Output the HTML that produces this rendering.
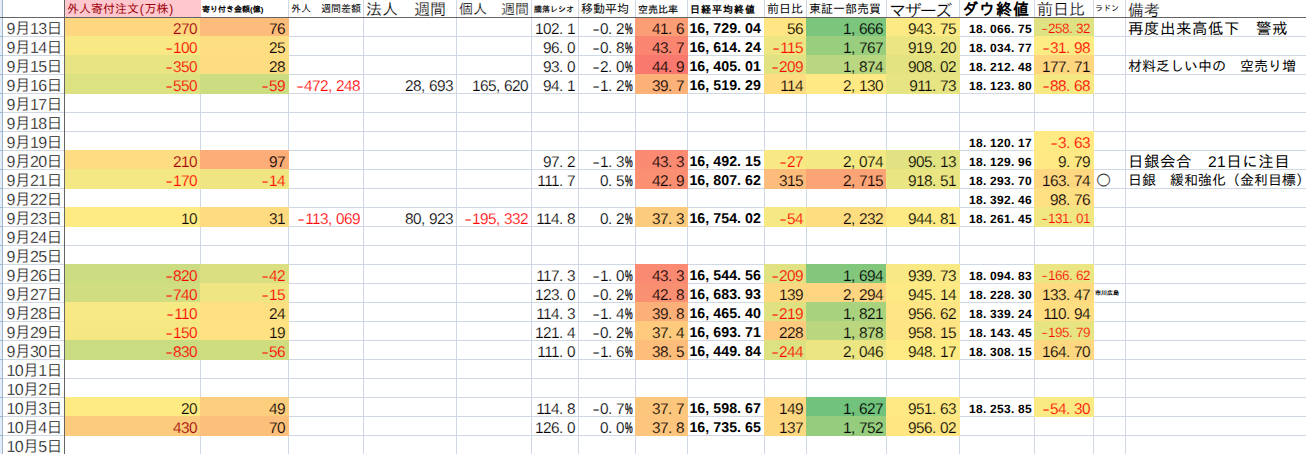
<!DOCTYPE html>
<html lang="ja">
<head>
<meta charset="utf-8">
<title>外人寄付注文 シート</title>
<style>
html,body{margin:0;padding:0;background:#fff;}
body{width:1306px;height:454px;overflow:hidden;}
#sheet{position:relative;width:1306px;height:454px;overflow:hidden;background:#fff;
  font-family:"Liberation Sans","IPAGothic",sans-serif;color:#000;}
.rh{position:absolute;left:0;top:0;width:2px;height:454px;background:#e4ecf7;}
.rhb{position:absolute;left:2px;top:0;width:1px;height:454px;background:#9eb6ce;}
.grid .rl{position:absolute;left:0;width:2px;height:1px;background:#9eb6ce;}
.grid .vl{position:absolute;top:0;width:1px;height:454px;background:#d0d7e5;}
.grid .hl{position:absolute;left:3px;height:1px;width:1303px;background:#d0d7e5;}
.row{position:absolute;left:0;top:0;width:1306px;height:20px;}
.row.head{height:17px;}
.c{position:absolute;top:0;height:20px;box-sizing:border-box;white-space:nowrap;
  text-align:right;padding-right:4px;font-size:15.4px;letter-spacing:-0.56px;line-height:25.3px;overflow:visible;text-rendering:geometricPrecision;}
.head .c{height:17px;text-align:left;padding:0 0 0 2px;overflow:hidden;letter-spacing:0;text-rendering:auto;-webkit-text-stroke:0;}
i{font-style:normal;display:inline-block;letter-spacing:0;}
i.p{width:8px;text-align:left;}
i.m{width:8px;text-align:center;transform:scaleX(1.5);}
i.pc{width:13.7px;margin:0 -3.7px 0 -2px;text-align:center;transform:scaleX(.56);-webkit-text-stroke:.35px #000;}
.neg{color:#ff0000;}
.dr{color:#9c0006;}
.cA{text-align:right;padding-right:2.3px;font-size:16px;letter-spacing:-0.7px;line-height:25px;}
.cJ{font-weight:bold;font-size:14.2px;letter-spacing:.05px;line-height:25px;}
.cN{padding-right:3px;font-weight:bold;font-size:12px;letter-spacing:.33px;line-height:24px;}
.cN i.p,.cO7 i.p,.cO7 i.m{width:7px;}
.cO7{font-size:13.5px;letter-spacing:-.5px;line-height:24px;}
.cP{text-align:left;padding-left:3px;font-size:16px;letter-spacing:0;}
.cP.circ{font-size:30px;line-height:21px;padding-left:1.5px;-webkit-text-stroke:.4px #fff;overflow:visible;}
.cP.tiny{font-size:6px;line-height:22.5px;padding-left:2px;font-weight:bold;}
.cQ{text-align:left;padding-left:3px;font-size:15.5px;letter-spacing:.5px;line-height:26px;}
.cQ.q14{font-size:14px;line-height:23px;letter-spacing:0;}
.head .hB{background:#ffc7ce;color:#9c0006;font-size:12px;line-height:18px;}
i.pp{width:5.5px;text-align:center;}
.head .hC{font-size:8px;line-height:19px;font-weight:bold;padding-left:1px;}
.head .hD{font-size:10px;line-height:18px;}
.head .hE{font-size:16px;line-height:19px;}
.head .hF{font-size:14px;line-height:18px;}
.head .hG{font-size:8px;line-height:19px;-webkit-text-stroke:.18px #000;}
.head .hH{font-size:12px;line-height:19px;}
.head .hI{font-size:10px;line-height:19px;-webkit-text-stroke:.15px #000;}
.head .hJ{font-size:10px;line-height:19px;font-weight:bold;letter-spacing:1px;}
.head .hK{font-size:12px;line-height:19px;}
.head .hL{font-size:12px;line-height:19px;}
.head .hM{font-size:17.5px;line-height:22px;letter-spacing:-2.2px;padding-left:2px;}
.head .hN{font-size:16px;line-height:20px;font-weight:bold;letter-spacing:1px;}
.head .hO{font-size:16px;line-height:19px;}
.head .hP{font-size:8px;line-height:18px;padding-left:1px;}
.head .hQ{font-size:16px;line-height:21px;}
.fh{position:absolute;left:0;top:17px;width:1306px;height:1px;background:#646464;}
.fv{position:absolute;left:64px;top:0;width:1px;height:454px;background:#646464;}
.head .hE,.head .hF,.head .hM,.head .hO,.head .hQ{-webkit-text-stroke:.2px #fff;}
</style>
</head>
<body>
<div id="sheet">
<div class="rh"></div><div class="rhb"></div>
<div class="grid">
<div class="vl" style="left:200px"></div><div class="vl" style="left:288px"></div><div class="vl" style="left:363px"></div><div class="vl" style="left:456px"></div><div class="vl" style="left:531px"></div><div class="vl" style="left:578px"></div><div class="vl" style="left:635px"></div><div class="vl" style="left:687px"></div><div class="vl" style="left:764px"></div><div class="vl" style="left:806px"></div><div class="vl" style="left:886px"></div><div class="vl" style="left:959px"></div><div class="vl" style="left:1034px"></div><div class="vl" style="left:1093px"></div><div class="vl" style="left:1125px"></div>
<div class="hl" style="top:36px"></div><div class="hl" style="top:55px"></div><div class="hl" style="top:74px"></div><div class="hl" style="top:93px"></div><div class="hl" style="top:112px"></div><div class="hl" style="top:131px"></div><div class="hl" style="top:150px"></div><div class="hl" style="top:169px"></div><div class="hl" style="top:188px"></div><div class="hl" style="top:207px"></div><div class="hl" style="top:226px"></div><div class="hl" style="top:245px"></div><div class="hl" style="top:264px"></div><div class="hl" style="top:283px"></div><div class="hl" style="top:302px"></div><div class="hl" style="top:321px"></div><div class="hl" style="top:340px"></div><div class="hl" style="top:359px"></div><div class="hl" style="top:378px"></div><div class="hl" style="top:397px"></div><div class="hl" style="top:416px"></div><div class="hl" style="top:435px"></div><div class="hl" style="top:454px"></div><div class="rl" style="top:36px"></div><div class="rl" style="top:55px"></div><div class="rl" style="top:74px"></div><div class="rl" style="top:93px"></div><div class="rl" style="top:112px"></div><div class="rl" style="top:131px"></div><div class="rl" style="top:150px"></div><div class="rl" style="top:169px"></div><div class="rl" style="top:188px"></div><div class="rl" style="top:207px"></div><div class="rl" style="top:226px"></div><div class="rl" style="top:245px"></div><div class="rl" style="top:264px"></div><div class="rl" style="top:283px"></div><div class="rl" style="top:302px"></div><div class="rl" style="top:321px"></div><div class="rl" style="top:340px"></div><div class="rl" style="top:359px"></div><div class="rl" style="top:378px"></div><div class="rl" style="top:397px"></div><div class="rl" style="top:416px"></div><div class="rl" style="top:435px"></div><div class="rl" style="top:454px"></div>
</div>
<div class="row head">
<div class="c hB" style="left:65px;width:136px"><span>外人寄付注文<i class="pp">(</i>万株<i class="pp">)</i></span></div>
<div class="c hC" style="left:201px;width:88px"><span>寄り付き金額(億)</span></div>
<div class="c hD" style="left:289px;width:75px"><span>外人　週間差額</span></div>
<div class="c hE" style="left:364px;width:93px"><span>法人　週間</span></div>
<div class="c hF" style="left:457px;width:75px"><span>個人　週間</span></div>
<div class="c hG" style="left:532px;width:47px"><span>騰落レシオ</span></div>
<div class="c hH" style="left:579px;width:57px"><span>移動平均</span></div>
<div class="c hI" style="left:636px;width:52px"><span>空売比率</span></div>
<div class="c hJ" style="left:688px;width:77px"><span>日経平均終値</span></div>
<div class="c hK" style="left:765px;width:42px"><span>前日比</span></div>
<div class="c hL" style="left:807px;width:80px"><span>東証一部売買</span></div>
<div class="c hM" style="left:887px;width:73px"><span>マザーズ</span></div>
<div class="c hN" style="left:960px;width:75px"><span>ダウ終値</span></div>
<div class="c hO" style="left:1035px;width:59px"><span>前日比</span></div>
<div class="c hP" style="left:1094px;width:32px"><span>ラドン</span></div>
<div class="c hQ" style="left:1126px;width:181px"><span>備考</span></div>
</div>
<div class="row" style="top:17px">
<div class="c cA" style="left:3px;width:61px;-webkit-text-stroke:.3px #fff">9月13日</div>
<div class="c cB dr" style="left:64px;width:137px;background:#fed780;-webkit-text-stroke:.2px #fed780">270</div>
<div class="c cC" style="left:200px;width:89px;background:#fcbc7b;-webkit-text-stroke:.2px #fcbc7b">76</div>
<div class="c cG" style="left:531px;width:48px;-webkit-text-stroke:.2px #fff">102<i class="p">.</i>1</div>
<div class="c cH" style="left:578px;width:58px;-webkit-text-stroke:.2px #fff"><i class="m">-</i>0<i class="p">.</i>2<i class="pc">%</i></div>
<div class="c cI" style="left:635px;width:53px;background:#fb9d75;-webkit-text-stroke:.2px #fb9d75">41<i class="p">.</i>6</div>
<div class="c cJ" style="left:687px;width:78px">16<i class="p">,</i>729<i class="p">.</i>04</div>
<div class="c cK" style="left:764px;width:43px;background:#ffe583;-webkit-text-stroke:.2px #ffe583">56</div>
<div class="c cL" style="left:806px;width:81px;background:#7bc57c;-webkit-text-stroke:.2px #7bc57c">1<i class="p">,</i>666</div>
<div class="c cM" style="left:886px;width:74px;background:#fcea84;-webkit-text-stroke:.2px #fcea84">943<i class="p">.</i>75</div>
<div class="c cN" style="left:959px;width:76px">18<i class="p">.</i>066<i class="p">.</i>75</div>
<div class="c cO neg cO7" style="left:1034px;width:60px;background:#dee282;-webkit-text-stroke:.2px #dee282"><i class="m">-</i>258<i class="p">.</i>32</div>
<div class="c cQ" style="left:1125px;width:276px">再度出来高低下　警戒</div>
</div>
<div class="row" style="top:36px">
<div class="c cA" style="left:3px;width:61px;-webkit-text-stroke:.3px #fff">9月14日</div>
<div class="c cB neg" style="left:64px;width:137px;background:#f8e984;-webkit-text-stroke:.2px #f8e984"><i class="m">-</i>100</div>
<div class="c cC" style="left:200px;width:89px;background:#fede82;-webkit-text-stroke:.2px #fede82">25</div>
<div class="c cG" style="left:531px;width:48px;-webkit-text-stroke:.2px #fff">96<i class="p">.</i>0</div>
<div class="c cH" style="left:578px;width:58px;-webkit-text-stroke:.2px #fff"><i class="m">-</i>0<i class="p">.</i>8<i class="pc">%</i></div>
<div class="c cI" style="left:635px;width:53px;background:#fa8671;-webkit-text-stroke:.2px #fa8671">43<i class="p">.</i>7</div>
<div class="c cJ" style="left:687px;width:78px">16<i class="p">,</i>614<i class="p">.</i>24</div>
<div class="c cK neg" style="left:764px;width:43px;background:#ede683;-webkit-text-stroke:.2px #ede683"><i class="m">-</i>115</div>
<div class="c cL" style="left:806px;width:81px;background:#99ce7e;-webkit-text-stroke:.2px #99ce7e">1<i class="p">,</i>767</div>
<div class="c cM" style="left:886px;width:74px;background:#ebe583;-webkit-text-stroke:.2px #ebe583">919<i class="p">.</i>20</div>
<div class="c cN" style="left:959px;width:76px">18<i class="p">.</i>034<i class="p">.</i>77</div>
<div class="c cO neg" style="left:1034px;width:60px;background:#fdeb84;-webkit-text-stroke:.2px #fdeb84"><i class="m">-</i>31<i class="p">.</i>98</div>
</div>
<div class="row" style="top:55px">
<div class="c cA" style="left:3px;width:61px;-webkit-text-stroke:.3px #fff">9月15日</div>
<div class="c cB neg" style="left:64px;width:137px;background:#e8e483;-webkit-text-stroke:.2px #e8e483"><i class="m">-</i>350</div>
<div class="c cC" style="left:200px;width:89px;background:#fedc81;-webkit-text-stroke:.2px #fedc81">28</div>
<div class="c cG" style="left:531px;width:48px;-webkit-text-stroke:.2px #fff">93<i class="p">.</i>0</div>
<div class="c cH" style="left:578px;width:58px;-webkit-text-stroke:.2px #fff"><i class="m">-</i>2<i class="p">.</i>0<i class="pc">%</i></div>
<div class="c cI" style="left:635px;width:53px;background:#f9796e;-webkit-text-stroke:.2px #f9796e">44<i class="p">.</i>9</div>
<div class="c cJ" style="left:687px;width:78px">16<i class="p">,</i>405<i class="p">.</i>01</div>
<div class="c cK neg" style="left:764px;width:43px;background:#e1e282;-webkit-text-stroke:.2px #e1e282"><i class="m">-</i>209</div>
<div class="c cL" style="left:806px;width:81px;background:#b9d780;-webkit-text-stroke:.2px #b9d780">1<i class="p">,</i>874</div>
<div class="c cM" style="left:886px;width:74px;background:#e3e382;-webkit-text-stroke:.2px #e3e382">908<i class="p">.</i>02</div>
<div class="c cN" style="left:959px;width:76px">18<i class="p">.</i>212<i class="p">.</i>48</div>
<div class="c cO" style="left:1034px;width:60px;background:#fed680;-webkit-text-stroke:.2px #fed680">177<i class="p">.</i>71</div>
<div class="c cQ q14" style="left:1125px;width:276px">材料乏しい中の　空売り増</div>
</div>
<div class="row" style="top:74px">
<div class="c cA" style="left:3px;width:61px;-webkit-text-stroke:.3px #fff">9月16日</div>
<div class="c cB neg" style="left:64px;width:137px;background:#dce182;-webkit-text-stroke:.2px #dce182"><i class="m">-</i>550</div>
<div class="c cC neg" style="left:200px;width:89px;background:#ccdc81;-webkit-text-stroke:.2px #ccdc81"><i class="m">-</i>59</div>
<div class="c cD neg" style="left:288px;width:76px;-webkit-text-stroke:.2px #fff"><i class="m">-</i>472<i class="p">,</i>248</div>
<div class="c cE" style="left:363px;width:94px;-webkit-text-stroke:.2px #fff">28<i class="p">,</i>693</div>
<div class="c cF" style="left:456px;width:76px;-webkit-text-stroke:.2px #fff">165<i class="p">,</i>620</div>
<div class="c cG" style="left:531px;width:48px;-webkit-text-stroke:.2px #fff">94<i class="p">.</i>1</div>
<div class="c cH" style="left:578px;width:58px;-webkit-text-stroke:.2px #fff"><i class="m">-</i>1<i class="p">.</i>2<i class="pc">%</i></div>
<div class="c cI" style="left:635px;width:53px;background:#fcb179;-webkit-text-stroke:.2px #fcb179">39<i class="p">.</i>7</div>
<div class="c cJ" style="left:687px;width:78px">16<i class="p">,</i>519<i class="p">.</i>29</div>
<div class="c cK" style="left:764px;width:43px;background:#fedc81;-webkit-text-stroke:.2px #fedc81">114</div>
<div class="c cL" style="left:806px;width:81px;background:#ffe984;-webkit-text-stroke:.2px #ffe984">2<i class="p">,</i>130</div>
<div class="c cM" style="left:886px;width:74px;background:#e6e483;-webkit-text-stroke:.2px #e6e483">911<i class="p">.</i>73</div>
<div class="c cN" style="left:959px;width:76px">18<i class="p">.</i>123<i class="p">.</i>80</div>
<div class="c cO neg" style="left:1034px;width:60px;background:#f6e883;-webkit-text-stroke:.2px #f6e883"><i class="m">-</i>88<i class="p">.</i>68</div>
</div>
<div class="row" style="top:93px">
<div class="c cA" style="left:3px;width:61px;-webkit-text-stroke:.3px #fff">9月17日</div>
</div>
<div class="row" style="top:112px">
<div class="c cA" style="left:3px;width:61px;-webkit-text-stroke:.3px #fff">9月18日</div>
</div>
<div class="row" style="top:131px">
<div class="c cA" style="left:3px;width:61px;-webkit-text-stroke:.3px #fff">9月19日</div>
<div class="c cN" style="left:959px;width:76px">18<i class="p">.</i>120<i class="p">.</i>17</div>
<div class="c cO neg" style="left:1034px;width:60px;background:#ffea84;-webkit-text-stroke:.2px #ffea84"><i class="m">-</i>3<i class="p">.</i>63</div>
</div>
<div class="row" style="top:150px">
<div class="c cA" style="left:3px;width:61px;-webkit-text-stroke:.3px #fff">9月20日</div>
<div class="c cB dr" style="left:64px;width:137px;background:#fedc81;-webkit-text-stroke:.2px #fedc81">210</div>
<div class="c cC" style="left:200px;width:89px;background:#fcad78;-webkit-text-stroke:.2px #fcad78">97</div>
<div class="c cG" style="left:531px;width:48px;-webkit-text-stroke:.2px #fff">97<i class="p">.</i>2</div>
<div class="c cH" style="left:578px;width:58px;-webkit-text-stroke:.2px #fff"><i class="m">-</i>1<i class="p">.</i>3<i class="pc">%</i></div>
<div class="c cI" style="left:635px;width:53px;background:#fa8a71;-webkit-text-stroke:.2px #fa8a71">43<i class="p">.</i>3</div>
<div class="c cJ" style="left:687px;width:78px">16<i class="p">,</i>492<i class="p">.</i>15</div>
<div class="c cK neg" style="left:764px;width:43px;background:#f9e984;-webkit-text-stroke:.2px #f9e984"><i class="m">-</i>27</div>
<div class="c cL" style="left:806px;width:81px;background:#f4e883;-webkit-text-stroke:.2px #f4e883">2<i class="p">,</i>074</div>
<div class="c cM" style="left:886px;width:74px;background:#e1e282;-webkit-text-stroke:.2px #e1e282">905<i class="p">.</i>13</div>
<div class="c cN" style="left:959px;width:76px">18<i class="p">.</i>129<i class="p">.</i>96</div>
<div class="c cO" style="left:1034px;width:60px;background:#ffe984;-webkit-text-stroke:.2px #ffe984">9<i class="p">.</i>79</div>
<div class="c cQ" style="left:1125px;width:276px">日銀会合　21日に注目</div>
</div>
<div class="row" style="top:169px">
<div class="c cA" style="left:3px;width:61px;-webkit-text-stroke:.3px #fff">9月21日</div>
<div class="c cB neg" style="left:64px;width:137px;background:#f3e883;-webkit-text-stroke:.2px #f3e883"><i class="m">-</i>170</div>
<div class="c cC neg" style="left:200px;width:89px;background:#efe683;-webkit-text-stroke:.2px #efe683"><i class="m">-</i>14</div>
<div class="c cG" style="left:531px;width:48px;-webkit-text-stroke:.2px #fff">111<i class="p">.</i>7</div>
<div class="c cH" style="left:578px;width:58px;-webkit-text-stroke:.2px #fff">0<i class="p">.</i>5<i class="pc">%</i></div>
<div class="c cI" style="left:635px;width:53px;background:#fa8f72;-webkit-text-stroke:.2px #fa8f72">42<i class="p">.</i>9</div>
<div class="c cJ" style="left:687px;width:78px">16<i class="p">,</i>807<i class="p">.</i>62</div>
<div class="c cK" style="left:764px;width:43px;background:#fcbc7b;-webkit-text-stroke:.2px #fcbc7b">315</div>
<div class="c cL" style="left:806px;width:81px;background:#fba476;-webkit-text-stroke:.2px #fba476">2<i class="p">,</i>715</div>
<div class="c cM" style="left:886px;width:74px;background:#eae583;-webkit-text-stroke:.2px #eae583">918<i class="p">.</i>51</div>
<div class="c cN" style="left:959px;width:76px">18<i class="p">.</i>293<i class="p">.</i>70</div>
<div class="c cO" style="left:1034px;width:60px;background:#fed880;-webkit-text-stroke:.2px #fed880">163<i class="p">.</i>74</div>
<div class="c cP circ" style="left:1093px;width:33px">○</div>
<div class="c cQ q14" style="left:1125px;width:276px">日銀　緩和強化（金利目標）</div>
</div>
<div class="row" style="top:188px">
<div class="c cA" style="left:3px;width:61px;-webkit-text-stroke:.3px #fff">9月22日</div>
<div class="c cN" style="left:959px;width:76px">18<i class="p">.</i>392<i class="p">.</i>46</div>
<div class="c cO" style="left:1034px;width:60px;background:#fedf82;-webkit-text-stroke:.2px #fedf82">98<i class="p">.</i>76</div>
</div>
<div class="row" style="top:207px">
<div class="c cA" style="left:3px;width:61px;-webkit-text-stroke:.3px #fff">9月23日</div>
<div class="c cB" style="left:64px;width:137px;background:#ffeb84;-webkit-text-stroke:.2px #ffeb84">10</div>
<div class="c cC" style="left:200px;width:89px;background:#feda81;-webkit-text-stroke:.2px #feda81">31</div>
<div class="c cD neg" style="left:288px;width:76px;-webkit-text-stroke:.2px #fff"><i class="m">-</i>113<i class="p">,</i>069</div>
<div class="c cE" style="left:363px;width:94px;-webkit-text-stroke:.2px #fff">80<i class="p">,</i>923</div>
<div class="c cF neg" style="left:456px;width:76px;-webkit-text-stroke:.2px #fff"><i class="m">-</i>195<i class="p">,</i>332</div>
<div class="c cG" style="left:531px;width:48px;-webkit-text-stroke:.2px #fff">114<i class="p">.</i>8</div>
<div class="c cH" style="left:578px;width:58px;-webkit-text-stroke:.2px #fff">0<i class="p">.</i>2<i class="pc">%</i></div>
<div class="c cI" style="left:635px;width:53px;background:#fdcb7e;-webkit-text-stroke:.2px #fdcb7e">37<i class="p">.</i>3</div>
<div class="c cJ" style="left:687px;width:78px">16<i class="p">,</i>754<i class="p">.</i>02</div>
<div class="c cK neg" style="left:764px;width:43px;background:#f6e883;-webkit-text-stroke:.2px #f6e883"><i class="m">-</i>54</div>
<div class="c cL" style="left:806px;width:81px;background:#fedd81;-webkit-text-stroke:.2px #fedd81">2<i class="p">,</i>232</div>
<div class="c cM" style="left:886px;width:74px;background:#fdea84;-webkit-text-stroke:.2px #fdea84">944<i class="p">.</i>81</div>
<div class="c cN" style="left:959px;width:76px">18<i class="p">.</i>261<i class="p">.</i>45</div>
<div class="c cO neg cO7" style="left:1034px;width:60px;background:#f0e783;-webkit-text-stroke:.2px #f0e783"><i class="m">-</i>131<i class="p">.</i>01</div>
</div>
<div class="row" style="top:226px">
<div class="c cA" style="left:3px;width:61px;-webkit-text-stroke:.3px #fff">9月24日</div>
</div>
<div class="row" style="top:245px">
<div class="c cA" style="left:3px;width:61px;-webkit-text-stroke:.3px #fff">9月25日</div>
</div>
<div class="row" style="top:264px">
<div class="c cA" style="left:3px;width:61px;-webkit-text-stroke:.3px #fff">9月26日</div>
<div class="c cB neg" style="left:64px;width:137px;background:#cbdc81;-webkit-text-stroke:.2px #cbdc81"><i class="m">-</i>820</div>
<div class="c cC neg" style="left:200px;width:89px;background:#dae082;-webkit-text-stroke:.2px #dae082"><i class="m">-</i>42</div>
<div class="c cG" style="left:531px;width:48px;-webkit-text-stroke:.2px #fff">117<i class="p">.</i>3</div>
<div class="c cH" style="left:578px;width:58px;-webkit-text-stroke:.2px #fff"><i class="m">-</i>1<i class="p">.</i>0<i class="pc">%</i></div>
<div class="c cI" style="left:635px;width:53px;background:#fa8a71;-webkit-text-stroke:.2px #fa8a71">43<i class="p">.</i>3</div>
<div class="c cJ" style="left:687px;width:78px">16<i class="p">,</i>544<i class="p">.</i>56</div>
<div class="c cK neg" style="left:764px;width:43px;background:#e1e282;-webkit-text-stroke:.2px #e1e282"><i class="m">-</i>209</div>
<div class="c cL" style="left:806px;width:81px;background:#83c77d;-webkit-text-stroke:.2px #83c77d">1<i class="p">,</i>694</div>
<div class="c cM" style="left:886px;width:74px;background:#f9e984;-webkit-text-stroke:.2px #f9e984">939<i class="p">.</i>73</div>
<div class="c cN" style="left:959px;width:76px">18<i class="p">.</i>094<i class="p">.</i>83</div>
<div class="c cO neg cO7" style="left:1034px;width:60px;background:#ebe583;-webkit-text-stroke:.2px #ebe583"><i class="m">-</i>166<i class="p">.</i>62</div>
</div>
<div class="row" style="top:283px">
<div class="c cA" style="left:3px;width:61px;-webkit-text-stroke:.3px #fff">9月27日</div>
<div class="c cB neg" style="left:64px;width:137px;background:#d0dd81;-webkit-text-stroke:.2px #d0dd81"><i class="m">-</i>740</div>
<div class="c cC neg" style="left:200px;width:89px;background:#efe683;-webkit-text-stroke:.2px #efe683"><i class="m">-</i>15</div>
<div class="c cG" style="left:531px;width:48px;-webkit-text-stroke:.2px #fff">123<i class="p">.</i>0</div>
<div class="c cH" style="left:578px;width:58px;-webkit-text-stroke:.2px #fff"><i class="m">-</i>0<i class="p">.</i>2<i class="pc">%</i></div>
<div class="c cI" style="left:635px;width:53px;background:#fa9072;-webkit-text-stroke:.2px #fa9072">42<i class="p">.</i>8</div>
<div class="c cJ" style="left:687px;width:78px">16<i class="p">,</i>683<i class="p">.</i>93</div>
<div class="c cK" style="left:764px;width:43px;background:#fed880;-webkit-text-stroke:.2px #fed880">139</div>
<div class="c cL" style="left:806px;width:81px;background:#fed580;-webkit-text-stroke:.2px #fed580">2<i class="p">,</i>294</div>
<div class="c cM" style="left:886px;width:74px;background:#fdea84;-webkit-text-stroke:.2px #fdea84">945<i class="p">.</i>14</div>
<div class="c cN" style="left:959px;width:76px">18<i class="p">.</i>228<i class="p">.</i>30</div>
<div class="c cO" style="left:1034px;width:60px;background:#fedb81;-webkit-text-stroke:.2px #fedb81">133<i class="p">.</i>47</div>
<div class="c cP tiny" style="left:1093px;width:33px">市川広島</div>
</div>
<div class="row" style="top:302px">
<div class="c cA" style="left:3px;width:61px;-webkit-text-stroke:.3px #fff">9月28日</div>
<div class="c cB neg" style="left:64px;width:137px;background:#f7e984;-webkit-text-stroke:.2px #f7e984"><i class="m">-</i>110</div>
<div class="c cC" style="left:200px;width:89px;background:#fedf82;-webkit-text-stroke:.2px #fedf82">24</div>
<div class="c cG" style="left:531px;width:48px;-webkit-text-stroke:.2px #fff">114<i class="p">.</i>3</div>
<div class="c cH" style="left:578px;width:58px;-webkit-text-stroke:.2px #fff"><i class="m">-</i>1<i class="p">.</i>4<i class="pc">%</i></div>
<div class="c cI" style="left:635px;width:53px;background:#fcb079;-webkit-text-stroke:.2px #fcb079">39<i class="p">.</i>8</div>
<div class="c cJ" style="left:687px;width:78px">16<i class="p">,</i>465<i class="p">.</i>40</div>
<div class="c cK neg" style="left:764px;width:43px;background:#e0e282;-webkit-text-stroke:.2px #e0e282"><i class="m">-</i>219</div>
<div class="c cL" style="left:806px;width:81px;background:#a9d27f;-webkit-text-stroke:.2px #a9d27f">1<i class="p">,</i>821</div>
<div class="c cM" style="left:886px;width:74px;background:#ffe583;-webkit-text-stroke:.2px #ffe583">956<i class="p">.</i>62</div>
<div class="c cN" style="left:959px;width:76px">18<i class="p">.</i>339<i class="p">.</i>24</div>
<div class="c cO" style="left:1034px;width:60px;background:#fede81;-webkit-text-stroke:.2px #fede81">110<i class="p">.</i>94</div>
</div>
<div class="row" style="top:321px">
<div class="c cA" style="left:3px;width:61px;-webkit-text-stroke:.3px #fff">9月29日</div>
<div class="c cB neg" style="left:64px;width:137px;background:#f5e883;-webkit-text-stroke:.2px #f5e883"><i class="m">-</i>150</div>
<div class="c cC" style="left:200px;width:89px;background:#ffe282;-webkit-text-stroke:.2px #ffe282">19</div>
<div class="c cG" style="left:531px;width:48px;-webkit-text-stroke:.2px #fff">121<i class="p">.</i>4</div>
<div class="c cH" style="left:578px;width:58px;-webkit-text-stroke:.2px #fff"><i class="m">-</i>0<i class="p">.</i>2<i class="pc">%</i></div>
<div class="c cI" style="left:635px;width:53px;background:#fdca7e;-webkit-text-stroke:.2px #fdca7e">37<i class="p">.</i>4</div>
<div class="c cJ" style="left:687px;width:78px">16<i class="p">,</i>693<i class="p">.</i>71</div>
<div class="c cK" style="left:764px;width:43px;background:#fdca7e;-webkit-text-stroke:.2px #fdca7e">228</div>
<div class="c cL" style="left:806px;width:81px;background:#bad780;-webkit-text-stroke:.2px #bad780">1<i class="p">,</i>878</div>
<div class="c cM" style="left:886px;width:74px;background:#ffe483;-webkit-text-stroke:.2px #ffe483">958<i class="p">.</i>15</div>
<div class="c cN" style="left:959px;width:76px">18<i class="p">.</i>143<i class="p">.</i>45</div>
<div class="c cO neg cO7" style="left:1034px;width:60px;background:#e7e483;-webkit-text-stroke:.2px #e7e483"><i class="m">-</i>195<i class="p">.</i>79</div>
</div>
<div class="row" style="top:340px">
<div class="c cA" style="left:3px;width:61px;-webkit-text-stroke:.3px #fff">9月30日</div>
<div class="c cB neg" style="left:64px;width:137px;background:#cadc81;-webkit-text-stroke:.2px #cadc81"><i class="m">-</i>830</div>
<div class="c cC neg" style="left:200px;width:89px;background:#cfdd81;-webkit-text-stroke:.2px #cfdd81"><i class="m">-</i>56</div>
<div class="c cG" style="left:531px;width:48px;-webkit-text-stroke:.2px #fff">111<i class="p">.</i>0</div>
<div class="c cH" style="left:578px;width:58px;-webkit-text-stroke:.2px #fff"><i class="m">-</i>1<i class="p">.</i>6<i class="pc">%</i></div>
<div class="c cI" style="left:635px;width:53px;background:#fdbe7b;-webkit-text-stroke:.2px #fdbe7b">38<i class="p">.</i>5</div>
<div class="c cJ" style="left:687px;width:78px">16<i class="p">,</i>449<i class="p">.</i>84</div>
<div class="c cK neg" style="left:764px;width:43px;background:#dce182;-webkit-text-stroke:.2px #dce182"><i class="m">-</i>244</div>
<div class="c cL" style="left:806px;width:81px;background:#ece583;-webkit-text-stroke:.2px #ece583">2<i class="p">,</i>046</div>
<div class="c cM" style="left:886px;width:74px;background:#ffeb84;-webkit-text-stroke:.2px #ffeb84">948<i class="p">.</i>17</div>
<div class="c cN" style="left:959px;width:76px">18<i class="p">.</i>308<i class="p">.</i>15</div>
<div class="c cO" style="left:1034px;width:60px;background:#fed880;-webkit-text-stroke:.2px #fed880">164<i class="p">.</i>70</div>
</div>
<div class="row" style="top:359px">
<div class="c cA" style="left:3px;width:61px;-webkit-text-stroke:.3px #fff">10月1日</div>
</div>
<div class="row" style="top:378px">
<div class="c cA" style="left:3px;width:61px;-webkit-text-stroke:.3px #fff">10月2日</div>
</div>
<div class="row" style="top:397px">
<div class="c cA" style="left:3px;width:61px;-webkit-text-stroke:.3px #fff">10月3日</div>
<div class="c cB" style="left:64px;width:137px;background:#ffeb84;-webkit-text-stroke:.2px #ffeb84">20</div>
<div class="c cC" style="left:200px;width:89px;background:#fdce7e;-webkit-text-stroke:.2px #fdce7e">49</div>
<div class="c cG" style="left:531px;width:48px;-webkit-text-stroke:.2px #fff">114<i class="p">.</i>8</div>
<div class="c cH" style="left:578px;width:58px;-webkit-text-stroke:.2px #fff"><i class="m">-</i>0<i class="p">.</i>7<i class="pc">%</i></div>
<div class="c cI" style="left:635px;width:53px;background:#fdc67d;-webkit-text-stroke:.2px #fdc67d">37<i class="p">.</i>7</div>
<div class="c cJ" style="left:687px;width:78px">16<i class="p">,</i>598<i class="p">.</i>67</div>
<div class="c cK" style="left:764px;width:43px;background:#fed780;-webkit-text-stroke:.2px #fed780">149</div>
<div class="c cL" style="left:806px;width:81px;background:#70c27c;-webkit-text-stroke:.2px #70c27c">1<i class="p">,</i>627</div>
<div class="c cM" style="left:886px;width:74px;background:#ffe984;-webkit-text-stroke:.2px #ffe984">951<i class="p">.</i>63</div>
<div class="c cN" style="left:959px;width:76px">18<i class="p">.</i>253<i class="p">.</i>85</div>
<div class="c cO neg" style="left:1034px;width:60px;background:#faea84;-webkit-text-stroke:.2px #faea84"><i class="m">-</i>54<i class="p">.</i>30</div>
</div>
<div class="row" style="top:416px">
<div class="c cA" style="left:3px;width:61px;-webkit-text-stroke:.3px #fff">10月4日</div>
<div class="c cB dr" style="left:64px;width:137px;background:#fdcb7e;-webkit-text-stroke:.2px #fdcb7e">430</div>
<div class="c cC" style="left:200px;width:89px;background:#fdc07c;-webkit-text-stroke:.2px #fdc07c">70</div>
<div class="c cG" style="left:531px;width:48px;-webkit-text-stroke:.2px #fff">126<i class="p">.</i>0</div>
<div class="c cH" style="left:578px;width:58px;-webkit-text-stroke:.2px #fff">0<i class="p">.</i>0<i class="pc">%</i></div>
<div class="c cI" style="left:635px;width:53px;background:#fdc57d;-webkit-text-stroke:.2px #fdc57d">37<i class="p">.</i>8</div>
<div class="c cJ" style="left:687px;width:78px">16<i class="p">,</i>735<i class="p">.</i>65</div>
<div class="c cK" style="left:764px;width:43px;background:#fed880;-webkit-text-stroke:.2px #fed880">137</div>
<div class="c cL" style="left:806px;width:81px;background:#95cc7e;-webkit-text-stroke:.2px #95cc7e">1<i class="p">,</i>752</div>
<div class="c cM" style="left:886px;width:74px;background:#ffe683;-webkit-text-stroke:.2px #ffe683">956<i class="p">.</i>02</div>
</div>
<div class="row" style="top:435px">
<div class="c cA" style="left:3px;width:61px;-webkit-text-stroke:.3px #fff">10月5日</div>
</div>
<div class="fh"></div><div class="fv"></div>
</div>
</body>
</html>
